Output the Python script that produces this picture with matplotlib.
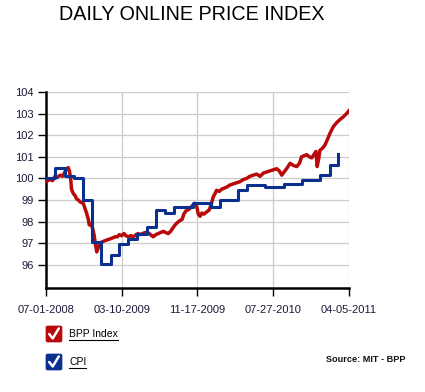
import pandas as pd
import matplotlib
matplotlib.use('Agg')
import matplotlib.pyplot as plt
import matplotlib.dates as mdates
from matplotlib.patches import FancyBboxPatch
from matplotlib.lines import Line2D

plt.rcParams['font.family'] = ['Liberation Sans', 'DejaVu Sans']

# --- data ---
# BPP index: days since 2008-07-01 and index value
bpp_days = [0, 13, 22, 30, 38, 47, 55, 63, 69, 74, 78, 82, 85, 91, 97, 102, 108, 115, 124, 130,
            135, 141, 144, 149, 155, 160, 163, 167, 169, 173, 178, 185, 193, 202, 213, 222, 230, 238, 244, 252,
            260, 266, 274, 282, 291, 300, 307, 313, 322, 330, 337, 344, 352, 357, 366, 374, 382, 391, 398, 407,
            415, 422, 430, 437, 446, 453, 459, 466, 474, 482, 488, 496, 502, 507, 513, 519, 526, 535, 544, 552,
            557, 563, 568, 577, 585, 593, 602, 613, 624, 635, 646, 657, 668, 679, 690, 701, 713, 724, 735, 746,
            757, 768, 777, 785, 793, 801, 813, 824, 835, 844, 851, 859, 868, 877, 885, 892, 899, 903, 908, 912,
            921, 929, 937, 946, 957, 966, 973, 981, 990, 1001, 1010]
bpp_vals = [99.85, 99.95, 99.9, 100.1, 100.05, 100.15, 100.1, 100.3, 100.45, 100.5, 100.35, 100.0, 99.5, 99.3, 99.2, 99.05, 99.0, 98.9, 98.85, 98.6,
            98.4, 98.1, 97.85, 97.9, 97.7, 97.4, 97.1, 96.75, 96.6, 96.75, 96.95, 97.05, 97.1, 97.15, 97.2, 97.25, 97.3, 97.3, 97.4, 97.35,
            97.45, 97.35, 97.3, 97.35, 97.3, 97.4, 97.45, 97.4, 97.45, 97.5, 97.5, 97.45, 97.35, 97.3, 97.4, 97.45, 97.5, 97.55, 97.5, 97.45,
            97.55, 97.7, 97.85, 97.95, 98.05, 98.1, 98.35, 98.5, 98.55, 98.65, 98.75, 98.85, 98.7, 98.35, 98.25, 98.4, 98.35, 98.45, 98.55, 98.9,
            99.15, 99.3, 99.45, 99.4, 99.5, 99.55, 99.6, 99.7, 99.75, 99.8, 99.85, 99.95, 100.0, 100.1, 100.15, 100.2, 100.1, 100.25, 100.3, 100.35,
            100.4, 100.45, 100.35, 100.15, 100.3, 100.45, 100.7, 100.6, 100.55, 100.7, 101.0, 101.05, 101.1, 101.0, 100.95, 101.1, 101.25, 100.55, 100.9, 101.3,
            101.4, 101.55, 101.8, 102.1, 102.4, 102.55, 102.65, 102.75, 102.85, 103.0, 103.15]

# CPI: monthly values from Jul 2008
cpi_vals = [100.0, 100.5, 100.1, 100.0, 99.0, 97.05, 96.05, 96.45, 96.95, 97.2, 97.45, 97.75,
            98.55, 98.4, 98.7, 98.7, 98.85, 98.85, 98.7, 99.0, 99.0, 99.45, 99.7, 99.7,
            99.6, 99.6, 99.75, 99.75, 99.95, 99.95, 100.15, 100.6, 101.15]

tick_dates = ['2008-07-01', '2009-03-10', '2009-11-17', '2010-07-27', '2011-04-05']
tick_labels = ['07-01-2008', '03-10-2009', '11-17-2009', '07-27-2010', '04-05-2011']
y_ticks = [96, 97, 98, 99, 100, 101, 102, 103, 104]

start = pd.Timestamp('2008-07-01')
bpp_dates = [start + pd.Timedelta(days=d) for d in bpp_days]
cpi_dates = pd.date_range(start, periods=len(cpi_vals), freq='MS')

red = '#b80a0a'
blue = '#0b2f8f'

fig = plt.figure(figsize=(4.25, 3.92), dpi=100)
ax = fig.add_axes([46 / 425, 1 - 288 / 392, (348.7 - 46) / 425, (288 - 92) / 392])

ax.plot(bpp_dates, bpp_vals, color=red, lw=2.5, solid_joinstyle='round', zorder=3)
ax.plot(cpi_dates, cpi_vals, color=blue, lw=2.2, drawstyle='steps-post', zorder=4)

ticks = [mdates.date2num(pd.Timestamp(t)) for t in tick_dates]
ax.set_xlim(ticks[0], ticks[-1])
ax.set_ylim(94.93, 104)
ax.set_xticks(ticks)
ax.set_xticklabels(tick_labels)
ax.set_yticks(y_ticks)
ax.grid(color='#cccccc', lw=0.9)
ax.set_axisbelow(True)

for s in ['top', 'right']:
    ax.spines[s].set_visible(False)
for s in ['left', 'bottom']:
    ax.spines[s].set_linewidth(1.8)
    ax.spines[s].set_color('black')
ax.tick_params(length=6, width=1, color='black', labelsize=8, labelcolor='#1a1a3a', pad=3)
ax.tick_params(axis='x', pad=6)

fig.text(0.452, 1 - 15 / 392, 'DAILY ONLINE PRICE INDEX', ha='center', va='center', fontsize=14.2)

# legend with check boxes
def check_box(y_px, color, label):
    x0, w = 46 / 425, 16 / 425
    h = 16 / 392
    y0 = 1 - (y_px + 8) / 392
    box = FancyBboxPatch((x0, y0), w, h, boxstyle='round,pad=0,rounding_size=0.004',
                         transform=fig.transFigure, facecolor=color, edgecolor=color, lw=0.5)
    fig.patches.append(box)
    fig.lines.append(Line2D([x0 + w * 0.2, x0 + w * 0.42, x0 + w * 0.8],
                            [y0 + h * 0.5, y0 + h * 0.22, y0 + h * 0.85],
                            transform=fig.transFigure, color='white', lw=1.8,
                            solid_capstyle='round', solid_joinstyle='round'))
    t = fig.text(69 / 425, 1 - y_px / 392, label, ha='left', va='center', fontsize=7.5, color='black')
    fig.canvas.draw()
    bb = t.get_window_extent().transformed(fig.transFigure.inverted())
    fig.lines.append(Line2D([bb.x0, bb.x1], [bb.y0 - 0.002, bb.y0 - 0.002],
                            transform=fig.transFigure, color='black', lw=0.8))

check_box(334, red, 'BPP Index')
check_box(362, blue, 'CPI')

fig.text(405 / 425, 1 - 359 / 392, 'Source: MIT - BPP', ha='right', va='center',
         fontsize=6.6, fontweight='bold', color='#111111')

fig.savefig('out.png', dpi=100)
